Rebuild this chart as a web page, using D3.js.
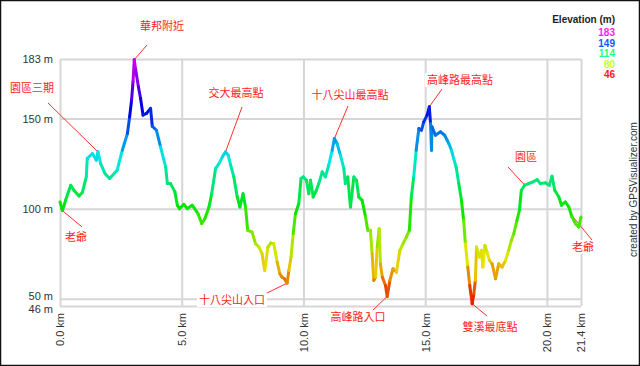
<!DOCTYPE html>
<html lang="zh-Hant">
<head>
<meta charset="utf-8">
<title>Elevation profile</title>
<script src="https://cdn.jsdelivr.net/npm/d3@7/dist/d3.min.js"></script>
<style>
  body { margin: 0; background: #fff; }
  svg { display: block; font-family: "Liberation Sans", Arial, sans-serif; }
  .grid line { stroke: #d6d6d6; stroke-width: 2px; }
  .axis text { fill: #333; font-size: 11px; }
  .note text { fill: #ff1a1a; font-size: 11px; font-family: "Noto Sans CJK TC", sans-serif; }
  .note line { stroke: #ff3030; stroke-width: 1px; }
</style>
</head>
<body>
<svg width="640" height="366"></svg>
<script>
// distance (km) and elevation (m)
var dist = [0, 0.1, 0.23, 0.44, 0.58, 0.78, 0.92, 1.08, 1.12, 1.33, 1.49, 1.56, 1.67, 1.85, 2.04, 2.35, 2.56, 2.77, 2.86, 2.94,
  3.0, 3.05, 3.11, 3.22, 3.31, 3.41, 3.55, 3.72, 3.79, 3.96, 4.13, 4.34, 4.41, 4.54, 4.72, 4.82, 4.91, 5.09, 5.23, 5.43,
  5.67, 5.82, 5.95, 6.12, 6.23, 6.39, 6.53, 6.67, 6.8, 6.91, 7.01, 7.14, 7.28, 7.39, 7.52, 7.62, 7.71, 7.89, 8.03, 8.17,
  8.30, 8.41, 8.54, 8.65, 8.78, 8.92, 9.03, 9.12, 9.22, 9.33, 9.40, 9.49, 9.58, 9.67, 9.81, 9.90, 9.99, 10.12, 10.22, 10.29,
  10.40, 10.53, 10.63, 10.77, 10.90, 11.04, 11.18, 11.27, 11.38, 11.52, 11.66, 11.72, 11.82, 11.93, 12.07, 12.18, 12.27, 12.41, 12.55, 12.64,
  12.75, 12.82, 12.89, 12.96, 13.03, 13.11, 13.16, 13.24, 13.37, 13.44, 13.55, 13.68, 13.82, 13.96, 14.09, 14.23, 14.35, 14.43, 14.53, 14.63,
  14.74, 14.85, 14.94, 15.08, 15.17, 15.22, 15.26, 15.28, 15.42, 15.63, 15.80, 15.90, 15.97, 16.08, 16.17, 16.27, 16.38, 16.49, 16.58, 16.65,
  16.75, 16.83, 16.93, 17.0, 17.06, 17.11, 17.23, 17.31, 17.37, 17.45, 17.54, 17.64, 17.75, 17.89, 18.02, 18.16, 18.30, 18.43, 18.54, 18.64,
  18.77, 18.87, 18.95, 19.09, 19.25, 19.42, 19.60, 19.73, 19.94, 20.10, 20.21, 20.32, 20.49, 20.60, 20.76, 20.90, 21.03, 21.17, 21.31, 21.4];
var elev = [103.7, 99, 104.6, 113, 110, 107, 109, 117.6, 127.8, 130.6, 126.9, 131.5, 125, 119.4, 116.7, 121.3, 132.4, 141.7, 150.9, 160.2,
  170.4, 182.6, 176.9, 167.6, 161.1, 151.9, 152.8, 155.6, 145.7, 143.5, 134.3, 123.1, 113.9, 113.9, 109.3, 101.9, 100, 102.4, 100, 101.9,
  97.2, 91.7, 94.4, 100.9, 108.3, 122.2, 125, 128.7, 131.5, 129.6, 124.1, 117.6, 106.5, 100.9, 108.3, 100.9, 88, 87, 80.6, 78.7,
  75, 65.7, 78.7, 80.9, 80.6, 70.4, 63.9, 62, 61.1, 58.7, 65.7, 73.1, 86.1, 97.2, 102.8, 116.7, 117.6, 115.7, 108.3, 115.7,
  106.5, 110.2, 113.9, 120.4, 117.6, 124.1, 132.4, 138.9, 136.1, 129.6, 122.2, 113.9, 117.6, 100.9, 117.6, 115.7, 106.5, 104.6, 95.4, 88,
  88, 75, 60.2, 62, 78.7, 88.9, 69.4, 62, 57.4, 51.3, 60.2, 66.7, 64.8, 76.9, 80.6, 84.3, 88, 106.5, 117.6, 132.4,
  144.4, 143.5, 148.1, 151.9, 156.5, 147.2, 132.4, 145.4, 140.7, 142.6, 140.7, 138, 136.1, 132.4, 127.8, 123.1, 113.9, 104.6, 93.5, 80.6,
  67.6, 57.4, 47.2, 52.8, 60.2, 78.7, 73.1, 76.9, 67.6, 79.6, 75.9, 71.3, 69.4, 61.1, 69.4, 67.6, 71.3, 76.9, 82.4, 86.1,
  93.5, 99.1, 110.2, 113, 113.9, 114.8, 116.1, 113.9, 114.3, 113, 118, 110.2, 106.5, 101.9, 103.7, 100.9, 95.4, 91.7, 89.8, 95.4];

var yTicks = [46, 50, 100, 150, 183];
var xTicks = [0, 5, 10, 15, 20, 21.4];
var legendValues = [183, 149, 114, 80, 46];

// place names and the point on the profile they point at
var noteText = ["華邦附近", "園區三期", "老爺", "交大最高點", "十八尖山最高點", "高峰路最高點", "園區", "老爺", "十八尖山入口", "高峰路入口", "雙溪最底點"];
var noteKm   = [3.05, 1.56, 0, 6.8, 11.27, 15.17, 19.09, 20.95, 9.33, 13.44, 16.93];
var noteElev = [182.6, 131.5, 100, 131.5, 138.9, 156.5, 113, 97.5, 58.7, 51.3, 47.2];
// layout of the labels: text centre and leader end
var noteTx = [162, 32, 76, 236, 350, 460, 526, 583, 232, 358, 490];
var noteTy = [30, 92, 241, 97, 99, 84, 161, 251, 304, 321, 331];
var noteLx = [147, 48, 82, 242, 348, 442, 508, 592, 263, 373, 487];
var noteLy = [45, 103, 227, 107, 106, 89, 167, 240, 295, 310, 316];

var svg = d3.select("svg");
var x = d3.scaleLinear().domain([0, 21.4]).range([60, 581]);
var y = d3.scaleLinear().domain([46, 183]).range([306, 59]);
var hue = d3.scaleLinear().domain([46, 183]).range([0, 300]);
function col(e, l) { return d3.hsl(hue(e), 1, l || 0.45).toString(); }

svg.append("rect").attr("x", 0.5).attr("y", 0.5).attr("width", 639).attr("height", 365)
  .attr("fill", "#fff").attr("stroke", "#111").attr("stroke-width", 1.5);

// grid + axes
var gy = svg.append("g").attr("class", "axis grid").attr("transform", "translate(60,0)")
  .call(d3.axisLeft(y).tickValues(yTicks).tickSize(-521).tickPadding(7).tickFormat(function(d) { return d + " m"; }));
gy.select(".domain").remove();
gy.selectAll("text").attr("dy", function(d) { return d == 50 ? "0.1em" : (d == 46 ? "0.55em" : "0.32em"); });

var gx = svg.append("g").attr("class", "axis grid").attr("transform", "translate(0,306)")
  .call(d3.axisBottom(x).tickValues(xTicks).tickSize(-247).tickFormat(function(d) { return d.toFixed(1) + " km"; }));
gx.select(".domain").remove();
gx.selectAll("text")
  .attr("transform", "rotate(-90)")
  .attr("text-anchor", "end")
  .attr("x", -7).attr("y", 0).attr("dy", "0.35em");

// notes (drawn under the profile so the line stays on top)
var notes = svg.append("g").attr("class", "note");
noteText.forEach(function(t, i) {
  notes.append("line")
    .attr("x1", x(noteKm[i])).attr("y1", y(noteElev[i]))
    .attr("x2", noteLx[i]).attr("y2", noteLy[i]);
  var w = t.length * 11 + 4;
  notes.append("rect").attr("x", noteTx[i] - w / 2).attr("y", noteTy[i] - 11)
    .attr("width", w).attr("height", 14).attr("fill", "#fff");
  notes.append("text").attr("x", noteTx[i]).attr("y", noteTy[i])
    .attr("text-anchor", "middle").text(t);
});

// profile, one segment per pair of points, coloured by elevation
var segs = d3.range(dist.length - 1);
svg.append("g").selectAll("line").data(segs).enter().append("line")
  .attr("x1", function(i) { return x(dist[i]); })
  .attr("y1", function(i) { return y(elev[i]); })
  .attr("x2", function(i) { return x(dist[i + 1]); })
  .attr("y2", function(i) { return y(elev[i + 1]); })
  .attr("stroke", function(i) { return col((elev[i] + elev[i + 1]) / 2); })
  .attr("stroke-width", 3)
  .attr("stroke-linecap", "round");

// legend
var leg = svg.append("g").attr("font-weight", "bold").attr("font-size", 10).attr("text-anchor", "end");
leg.append("text").attr("x", 615).attr("y", 23).attr("fill", "#222").text("Elevation (m)");
leg.selectAll(".lv").data(legendValues).enter().append("text")
  .attr("x", 615).attr("y", function(d, i) { return 36 + i * 10.5; })
  .attr("fill", function(d) { return col(d, 0.55); })
  .text(function(d) { return d; });

svg.append("text").attr("transform", "translate(637,257) rotate(-90)")
  .attr("font-size", 10).attr("fill", "#333").text("created by GPSVisualizer.com");
</script>
</body>
</html>
